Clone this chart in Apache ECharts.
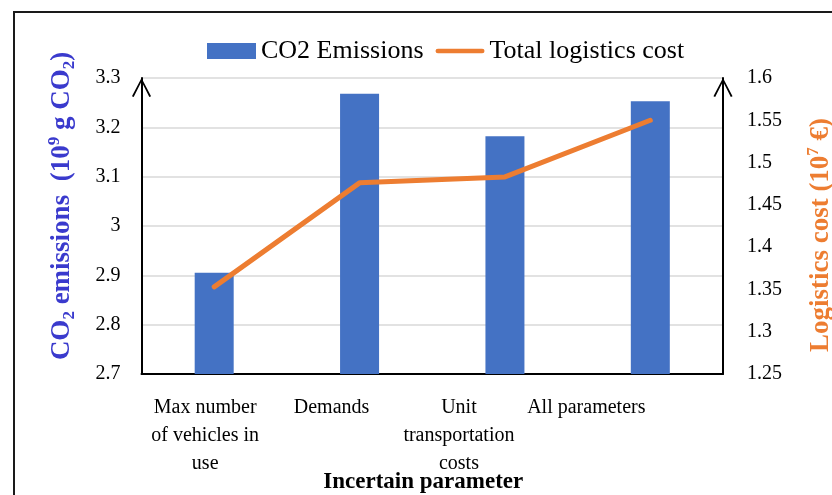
<!DOCTYPE html>
<html>
<head>
<meta charset="utf-8">
<script src="https://cdn.jsdelivr.net/npm/echarts@6/dist/echarts.min.js"></script>
<style>html,body{margin:0;padding:0;background:#fff;}#c{width:832px;height:495px;}</style>
</head>
<body>
<div id="c"></div>
<script>
var categories = ['Max number\nof vehicles in\nuse', 'Demands', 'Unit\ntransportation\ncosts', 'All parameters'];
var co2Emissions = [2.905, 3.268, 3.182, 3.253];
var logisticsCost = [1.353, 1.476, 1.483, 1.550];
var leftTicks = {min: 2.7, max: 3.3, interval: 0.1};
var rightTicks = {min: 1.25, max: 1.6, interval: 0.05};

var FONT = 'Liberation Serif';
var labelShift = [9, 28, 46, 64];
var rich = {};
labelShift.forEach(function (d, i) {
  rich['c' + i] = {fontFamily: FONT, fontSize: 20, lineHeight: 28, color: '#000', padding: [0, 2 * d, 0, 0]};
});
var arrowPath = 'path://M0 19 L10 0 L20 19 L18.2 19.9 L10 3.6 L1.8 19.9 Z';
var lineIcon = 'path://M2.5 0 H49.5 A2.5 2.5 0 0 1 49.5 5 H2.5 A2.5 2.5 0 0 1 2.5 0 Z';
var nameRich = function (color) {
  return {
    a: {fontFamily: FONT, fontSize: 27, fontWeight: 'bold', color: color, lineHeight: 32},
    s: {fontFamily: FONT, fontSize: 17, fontWeight: 'bold', color: color, lineHeight: 17, verticalAlign: 'bottom'},
    p: {fontFamily: FONT, fontSize: 17, fontWeight: 'bold', color: color, lineHeight: 17, verticalAlign: 'top'}
  };
};

var chart = echarts.init(document.getElementById('c'), null, {renderer: 'canvas'});
chart.setOption({
  backgroundColor: '#fff',
  animation: false,
  graphic: [{
    type: 'rect', shape: {x: 14, y: 12, width: 900, height: 600},
    style: {fill: 'none', stroke: '#1a1a1a', lineWidth: 2}, silent: true
  }],
  legend: {
    left: 202, top: 33,
    itemWidth: 49, itemHeight: 16, itemGap: 12,
    textStyle: {fontFamily: FONT, fontSize: 26, color: '#000'},
    data: [{name: 'CO2 Emissions', icon: 'rect'}, {name: 'Total logistics cost', icon: lineIcon}]
  },
  grid: {left: 141.5, right: 109, top: 78, bottom: 121, containLabel: false, outerBoundsMode: 'none'},
  xAxis: {
    type: 'category',
    data: categories,
    name: 'Incertain parameter',
    nameLocation: 'middle',
    nameGap: 97,
    nameMoveOverlap: false,
    nameTextStyle: {fontFamily: FONT, fontSize: 23, fontWeight: 'bold', color: '#000', padding: [0, 18, 0, 0]},
    axisLine: {lineStyle: {color: '#000', width: 2}},
    axisTick: {show: false},
    axisLabel: {
      interval: 0, margin: 20,
      formatter: function (v, i) {
        return v.split('\n').map(function (l) { return '{c' + i + '|' + l + '}'; }).join('\n');
      },
      rich: rich
    }
  },
  yAxis: [{
    type: 'value',
    min: leftTicks.min, max: leftTicks.max, interval: leftTicks.interval,
    name: '{a|CO}{s|2}{a| emissions  (10}{p|9}{a| g CO}{s|2}{a|)}',
    nameLocation: 'middle',
    nameGap: 63,
    nameMoveOverlap: false,
    nameTextStyle: {rich: nameRich('#3a3acd'), padding: [0, 0, 0, 40]},
    axisLine: {show: true, lineStyle: {color: '#000', width: 2}, symbol: ['none', arrowPath], symbolSize: [20, 19], symbolOffset: [0, -9.5]},
    axisTick: {show: false},
    axisLabel: {margin: 21, fontFamily: FONT, fontSize: 20, color: '#000'},
    splitLine: {show: true, lineStyle: {color: '#d9d9d9', width: 1.5}}
  }, {
    type: 'value',
    min: rightTicks.min, max: rightTicks.max, interval: rightTicks.interval,
    name: '{a|Logistics cost (10}{p|7}{a| €)}',
    nameLocation: 'middle',
    nameGap: 82,
    nameMoveOverlap: false,
    nameTextStyle: {rich: nameRich('#ed7d31'), padding: [0, 18, 0, 0]},
    axisLine: {show: true, lineStyle: {color: '#000', width: 2}, symbol: ['none', arrowPath], symbolSize: [20, 19], symbolOffset: [0, -9.5]},
    axisTick: {show: false},
    axisLabel: {margin: 24, fontFamily: FONT, fontSize: 20, color: '#000'},
    splitLine: {show: false}
  }],
  series: [{
    name: 'CO2 Emissions',
    type: 'bar',
    data: co2Emissions,
    barWidth: 39,
    itemStyle: {color: '#4472c4'},
    z: 2
  }, {
    name: 'Total logistics cost',
    type: 'line',
    yAxisIndex: 1,
    data: logisticsCost,
    symbol: 'none',
    lineStyle: {color: '#ed7d31', width: 5, cap: 'round', join: 'round'},
    itemStyle: {color: '#ed7d31'},
    z: 3
  }]
});
</script>
</body>
</html>
